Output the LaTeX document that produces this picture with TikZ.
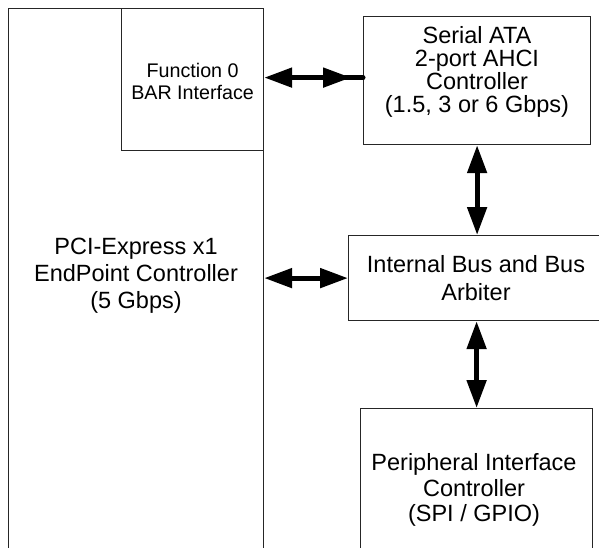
\documentclass[tikz,border=0pt]{standalone}
\usepackage{fontspec}
\setmainfont{Liberation Sans}
\usetikzlibrary{arrows.meta}
\tikzset{
  box/.style={draw=black!85, line width=1.2pt, rectangle, inner sep=0pt, anchor=north west},
  txt/.style={align=center, inner sep=0pt},
  bigfont/.style={font=\fontsize{23.5pt}{#1}\selectfont},
  smalltxt/.style={align=center, font=\fontsize{19.7pt}{22pt}\selectfont, inner sep=0pt},
  arr/.style={line width=5pt, {Triangle[length=28pt,width=19pt]}-{Triangle[length=28pt,width=19pt]}},
  stub/.style={line width=5pt, line cap=round}
}
\begin{document}
\begin{tikzpicture}[x=1pt,y=-1pt]
\clip (0,0) rectangle (599,548);
\fill[white] (0,0) rectangle (599,548);
% boxes
\node[box, minimum width=255pt, minimum height=600pt] (pcie) at (8,8) {};
\node[box, minimum width=142pt, minimum height=142pt] (func) at (121,8) {};
\node[box, minimum width=227pt, minimum height=128pt] (sata) at (363,16) {};
\node[box, minimum width=280pt, minimum height=85pt] (bus) at (348,235) {};
\node[box, minimum width=232pt, minimum height=200pt] (periph) at (360,408) {};
% texts
\node[smalltxt] (functext) at (func.center |- 0,81) {Function 0\\BAR Interface};
\node[txt, bigfont=23pt] (satatext) at (477,72) {Serial ATA\\2-port AHCI\\Controller\\(1.5, 3 or 6 Gbps)};
\node[txt, bigfont=27pt] (pcietext) at (136,276) {PCI-Express x1\\EndPoint Controller\\(5 Gbps)};
\node[txt, bigfont=28pt] (bustext) at (476,278) {Internal Bus and Bus\\Arbiter};
\node[txt, bigfont=25.5pt] (periphtext) at (474,490) {Peripheral Interface\\Controller\\(SPI / GPIO)};
% connectors
\coordinate (fe) at ([yshift=2pt]func.east);
\coordinate (sw) at (fe -| sata.west);
\coordinate (tipR) at ([xshift=-12pt]sw);
\coordinate (stubS) at ([xshift=-18pt]sw);
\draw[stub] (stubS) -- (sw);
\draw[arr] (fe) -- (tipR);
\draw[arr] (sata.south) -- (sata.south |- bus.north);
\draw[arr] (bus.west -| pcie.east) -- (bus.west);
\draw[arr] (periph.north |- bus.south) -- (periph.north);
\end{tikzpicture}
\end{document}
